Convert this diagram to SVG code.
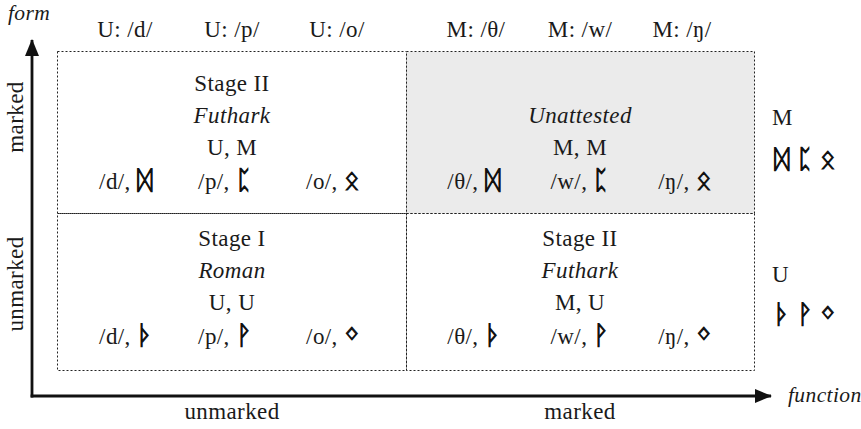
<svg xmlns="http://www.w3.org/2000/svg" width="861" height="429" viewBox="0 0 861 429">
  <defs>
    <style>
      text { font-family: "Liberation Serif", "DejaVu Serif", serif; font-size: 23px; letter-spacing: 0.4px; fill: #1a1a1a; }
      .c { text-anchor: middle; }
      .it { font-style: italic; }
      .ax { font-size: 21.5px; }
      .rune { font-size: 26px; letter-spacing: 0; fill: #111; stroke: #111; stroke-width: 1; }
      .cell { fill: none; stroke: #222; stroke-width: 1; stroke-dasharray: 2 2; }
      .axis { stroke: #111; stroke-width: 2.8; fill: none; }
    </style>
    <marker id="head" viewBox="0 0 17 14" refX="16" refY="7" markerWidth="17" markerHeight="14" markerUnits="userSpaceOnUse" orient="auto">
      <path d="M0,0 L17,7 L0,14 z" fill="#111"/>
    </marker>
  </defs>
  <rect width="861" height="429" fill="#fff"/>

  <!-- axes -->
  <g id="axes">
    <path class="axis" d="M32,397.4 L32,40" marker-end="url(#head)"/>
    <path class="axis" d="M30.6,396 L771,396" marker-end="url(#head)"/>
    <text x="8" y="20" class="it ax">form</text>
    <text x="788" y="402" class="it ax">function</text>
    <text class="c" transform="translate(23,117) rotate(-90)">marked</text>
    <text class="c" transform="translate(23,284) rotate(-90)">unmarked</text>
    <text x="232" y="419" class="c">unmarked</text>
    <text x="580" y="419" class="c">marked</text>
  </g>

  <!-- column headers -->
  <g id="headers">
    <text x="125" y="37" class="c">U: /d/</text>
    <text x="232" y="37" class="c">U: /p/</text>
    <text x="337" y="37" class="c">U: /o/</text>
    <text x="476" y="37" class="c">M: /θ/</text>
    <text x="580" y="37" class="c">M: /w/</text>
    <text x="682" y="37" class="c">M: /ŋ/</text>
  </g>

  <!-- quadrant cells -->
  <g id="cell-marked-unmarked">
    <rect class="cell" x="57.5" y="51.5" width="349" height="162"/>
    <text x="232" y="91" class="c">Stage II</text>
    <text x="232" y="123" class="c it">Futhark</text>
    <text x="232" y="155" class="c">U, M</text>
    <text x="126" y="189" class="c">/d/, <tspan class="rune">ᛞ</tspan></text>
    <text x="225" y="189" class="c">/p/, <tspan class="rune">ᛈ</tspan></text>
    <text x="333" y="189" class="c">/o/, <tspan class="rune">ᛟ</tspan></text>
  </g>

  <g id="cell-marked-marked">
    <rect x="406.5" y="51.5" width="348" height="162" fill="#ebebeb" stroke="none"/>
    <rect class="cell" x="406.5" y="51.5" width="348" height="162"/>
    <text x="580" y="123" class="c it">Unattested</text>
    <text x="580" y="155" class="c">M, M</text>
    <text x="474" y="189" class="c">/θ/, <tspan class="rune">ᛞ</tspan></text>
    <text x="580" y="189" class="c">/w/, <tspan class="rune">ᛈ</tspan></text>
    <text x="685" y="189" class="c">/ŋ/, <tspan class="rune">ᛟ</tspan></text>
  </g>

  <g id="cell-unmarked-unmarked">
    <rect class="cell" x="57.5" y="213.5" width="349" height="157"/>
    <text x="232" y="246" class="c">Stage I</text>
    <text x="232" y="278" class="c it">Roman</text>
    <text x="232" y="310" class="c">U, U</text>
    <text x="126" y="344" class="c">/d/, <tspan class="rune">ᚦ</tspan></text>
    <text x="225" y="344" class="c">/p/, <tspan class="rune">ᚹ</tspan></text>
    <text x="333" y="344" class="c">/o/, <tspan class="rune">ᛜ</tspan></text>
  </g>

  <g id="cell-unmarked-marked">
    <rect class="cell" x="406.5" y="213.5" width="348" height="157"/>
    <text x="580" y="246" class="c">Stage II</text>
    <text x="580" y="278" class="c it">Futhark</text>
    <text x="580" y="310" class="c">M, U</text>
    <text x="474" y="344" class="c">/θ/, <tspan class="rune">ᚦ</tspan></text>
    <text x="580" y="344" class="c">/w/, <tspan class="rune">ᚹ</tspan></text>
    <text x="685" y="344" class="c">/ŋ/, <tspan class="rune">ᛜ</tspan></text>
  </g>

  <!-- row legends -->
  <g id="legend-m">
    <text x="772" y="125">M</text>
    <text x="774" y="168" class="rune" style="letter-spacing:7px">ᛞᛈᛟ</text>
  </g>
  <g id="legend-u">
    <text x="772" y="282">U</text>
    <text x="774" y="323" class="rune" style="letter-spacing:7px">ᚦᚹᛜ</text>
  </g>
</svg>
